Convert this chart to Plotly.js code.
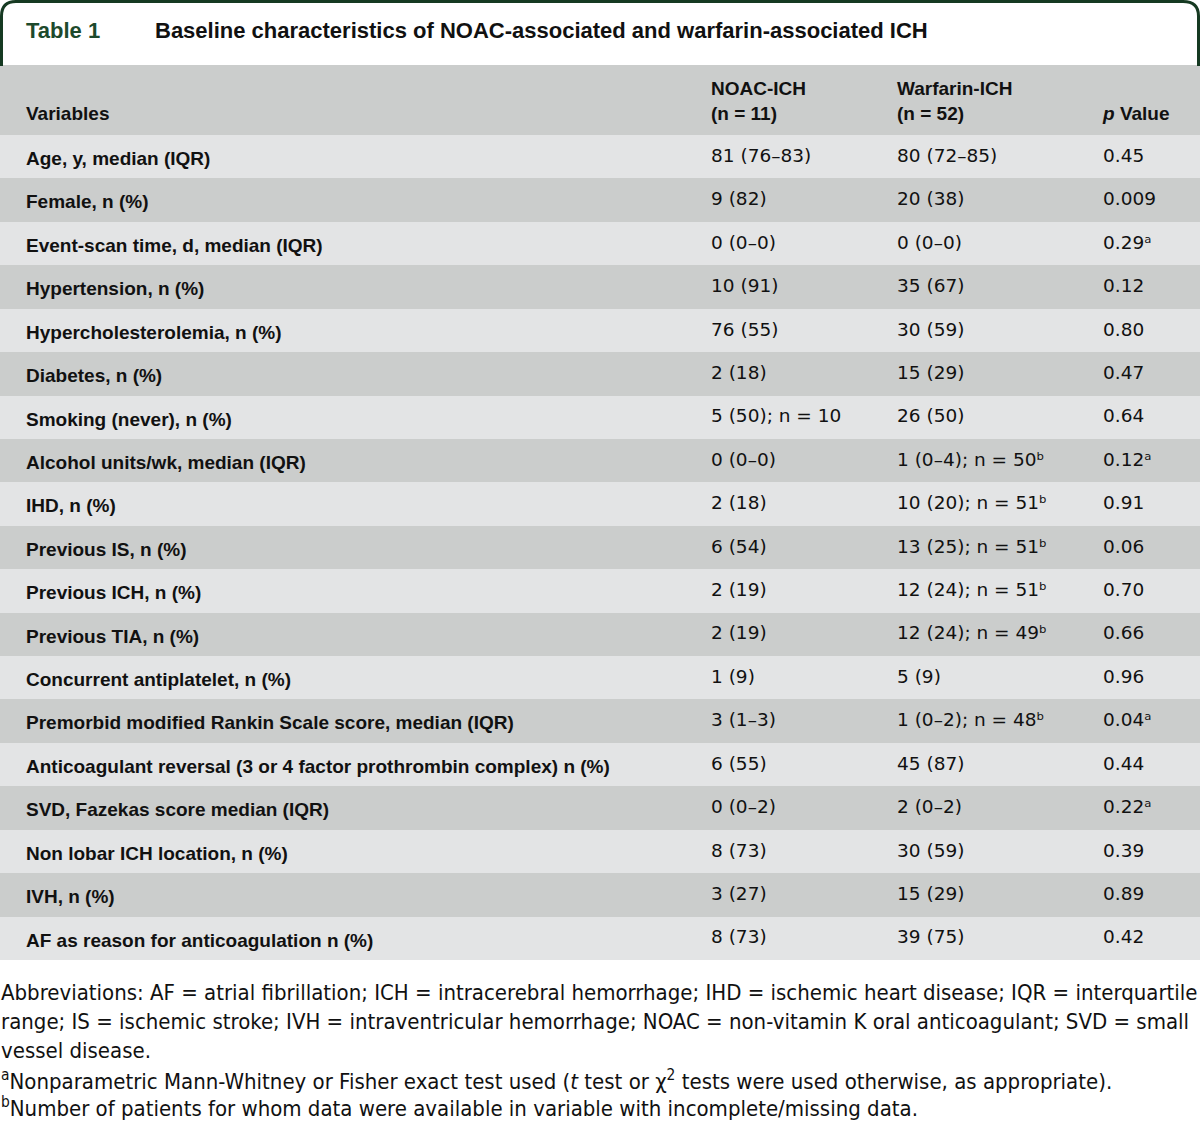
<!DOCTYPE html>
<html><head><meta charset="utf-8">
<script src="https://cdn.plot.ly/plotly-3.0.1.min.js"></script>
<style>html,body{margin:0;padding:0;background:#fff}#chart{width:1200px;height:1121px}</style>
</head><body><div id="chart"></div>
<script>
var variables = [
  "Age, y, median (IQR)",
  "Female, n (%)",
  "Event-scan time, d, median (IQR)",
  "Hypertension, n (%)",
  "Hypercholesterolemia, n (%)",
  "Diabetes, n (%)",
  "Smoking (never), n (%)",
  "Alcohol units/wk, median (IQR)",
  "IHD, n (%)",
  "Previous IS, n (%)",
  "Previous ICH, n (%)",
  "Previous TIA, n (%)",
  "Concurrent antiplatelet, n (%)",
  "Premorbid modified Rankin Scale score, median (IQR)",
  "Anticoagulant reversal (3 or 4 factor prothrombin complex) n (%)",
  "SVD, Fazekas score median (IQR)",
  "Non lobar ICH location, n (%)",
  "IVH, n (%)",
  "AF as reason for anticoagulation n (%)"
];
var noacICH = ["81 (76–83)","9 (82)","0 (0–0)","10 (91)","76 (55)","2 (18)","5 (50); n = 10","0 (0–0)","2 (18)","6 (54)","2 (19)","2 (19)","1 (9)","3 (1–3)","6 (55)","0 (0–2)","8 (73)","3 (27)","8 (73)"];
var warfarinICH = ["80 (72–85)","20 (38)","0 (0–0)","35 (67)","30 (59)","15 (29)","26 (50)","1 (0–4); n = 50ᵇ","10 (20); n = 51ᵇ","13 (25); n = 51ᵇ","12 (24); n = 51ᵇ","12 (24); n = 49ᵇ","5 (9)","1 (0–2); n = 48ᵇ","45 (87)","2 (0–2)","30 (59)","15 (29)","39 (75)"];
var pValues = ["0.45","0.009","0.29ᵃ","0.12","0.80","0.47","0.64","0.12ᵃ","0.91","0.06","0.70","0.66","0.96","0.04ᵃ","0.44","0.22ᵃ","0.39","0.89","0.42"];
var headerLabels = ["", "\u00a0<br>Variables", "NOAC-ICH<br>(n = 11)", "Warfarin-ICH<br>(n = 52)", "\u00a0<br><i>p</i> Value"];
var tableTitle = "Baseline characteristics of NOAC-associated and warfarin-associated ICH";
var tableLabel = "Table 1";
var footnotes = [
  "Abbreviations: AF = atrial fibrillation; ICH = intracerebral hemorrhage; IHD = ischemic heart disease; IQR = interquartile",
  "range; IS = ischemic stroke; IVH = intraventricular hemorrhage; NOAC = non-vitamin K oral anticoagulant; SVD = small",
  "vessel disease.",
  "<sup>a</sup>Nonparametric Mann-Whitney or Fisher exact test used (<i>t</i> test or χ<sup>2</sup> tests were used otherwise, as appropriate).",
  "<sup>b</sup>Number of patients for whom data were available in variable with incomplete/missing data."
];

var W = 1200, H = 1121;
function px(x){return x/W;}
function py(y){return 1 - y/H;}

var light = "#e3e4e5", dark = "#cbcdcc";
var rowColors = variables.map(function(_, i){ return i % 2 === 0 ? light : dark; });
var blank = variables.map(function(){ return ""; });
var boldVars = variables.map(function(v){ return "<b>" + v + "</b>"; });

var headerTop = 65, headerH = 70, rowH = 43.42;
var tableBottom = headerTop + headerH + rowH * variables.length + 2;
var colW = [18, 685, 186, 206, 105];
var textShift = 5;

// background table: the row fills
var fillTrace = {
  type: "table",
  domain: {x: [0, 1], y: [py(tableBottom), py(headerTop)]},
  columnwidth: colW,
  header: {values: ["", "", "", "", ""], height: headerH, fill: {color: dark}, line: {width: 0, color: dark}},
  cells: {values: [blank, blank, blank, blank, blank], height: rowH, fill: {color: [rowColors]}, line: {width: 0, color: light}}
};

// text table, same grid, nudged down so the text sits mid-row
var textTrace = {
  type: "table",
  domain: {x: [0, 1], y: [py(tableBottom + textShift + 20), py(headerTop + textShift)]},
  columnwidth: colW,
  header: {
    values: headerLabels.map(function(h){ return "<b>" + h + "</b>"; }),
    align: "left",
    height: headerH,
    fill: {color: "rgba(0,0,0,0)"},
    line: {width: 0, color: "rgba(0,0,0,0)"},
    font: {family: "Liberation Sans, Arial, sans-serif", size: 19, color: "#111"}
  },
  cells: {
    values: [blank, boldVars, noacICH, warfarinICH, pValues],
    align: "left",
    height: rowH,
    fill: {color: "rgba(0,0,0,0)"},
    line: {width: 0, color: "rgba(0,0,0,0)"},
    font: {
      family: ["Liberation Sans, Arial, sans-serif", "Liberation Sans, Arial, sans-serif", "DejaVu Sans, sans-serif", "DejaVu Sans, sans-serif", "DejaVu Sans, sans-serif"],
      size: [19, 19, 18.5, 18.5, 18.5],
      color: "#111"
    }
  }
};

var annotations = [
  {text: "<b>" + tableLabel + "</b>", x: px(24), y: py(31), xanchor: "left", yanchor: "middle",
   font: {family: "Liberation Sans, Arial, sans-serif", size: 22, color: "#1d4a2c"}},
  {text: "<b>" + tableTitle + "</b>", x: px(153), y: py(31), xanchor: "left", yanchor: "middle",
   font: {family: "Liberation Sans, Arial, sans-serif", size: 22, color: "#111"}}
];
var footY = [992, 1021, 1050, 1080, 1107];
footnotes.forEach(function(t, i){
  annotations.push({text: t, x: 0, y: py(footY[i]), xanchor: "left", yanchor: "middle", align: "left", borderpad: 0,
    font: {family: "DejaVu Sans Condensed, Liberation Sans Narrow, sans-serif", size: 22, color: "#111"}});
});
annotations.forEach(function(a){ a.xref = "paper"; a.yref = "paper"; a.showarrow = false; });

function P(x, y){ return px(x) + "," + py(y); }
var framePath = "M" + P(1.5, 66) + " L" + P(1.5, 16) + " Q" + P(1.5, 1.5) + " " + P(16, 1.5) +
  " L" + P(1183, 1.5) + " Q" + P(1198.5, 1.5) + " " + P(1198.5, 16) + " L" + P(1198.5, 66);

var layout = {
  width: W, height: H,
  margin: {l: 0, r: 0, t: 0, b: 0},
  paper_bgcolor: "#ffffff",
  showlegend: false,
  annotations: annotations,
  shapes: [{type: "path", xref: "paper", yref: "paper", path: framePath,
            line: {color: "#163a22", width: 3}}]
};

Plotly.newPlot("chart", [fillTrace, textTrace], layout, {displayModeBar: false, staticPlot: true});
</script></body></html>
